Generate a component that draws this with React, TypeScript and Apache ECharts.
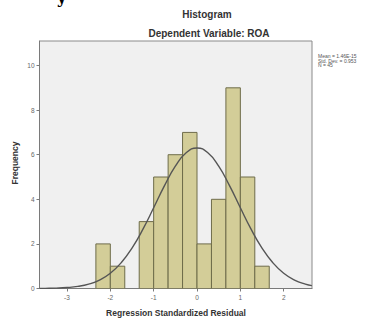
import React, { useEffect, useRef } from "react";
import * as echarts from "echarts";

// Histogram bins (lower edge of each bin, width = 1/3)
const binLowerEdges = [-7 / 3, -2, -5 / 3, -4 / 3, -1, -2 / 3, -1 / 3, 0, 1 / 3, 2 / 3, 1, 4 / 3];
const binWidth = 1 / 3;
const frequencies = [2, 1, 0, 3, 5, 6, 7, 2, 4, 9, 5, 1];

// Normal curve points
const curveX = [-3.63, -3.5, -3.25, -3, -2.75, -2.5, -2.25, -2, -1.75, -1.5, -1.25, -1, -0.75, -0.5, -0.25, 0, 0.25, 0.5, 0.75, 1, 1.25, 1.5, 1.75, 2, 2.25, 2.5, 2.65];
const curveY = [0.004, 0.007, 0.018, 0.043, 0.095, 0.197, 0.381, 0.687, 1.155, 1.811, 2.651, 3.62, 4.613, 5.485, 6.086, 6.3, 6.086, 5.485, 4.613, 3.62, 2.651, 1.811, 1.155, 0.687, 0.381, 0.197, 0.13];

const xTicks = [-3, -2, -1, 0, 1, 2];
const yTicks = [0, 2, 4, 6, 8, 10];
const statsLines = ["Mean = 1.46E-15", "Std. Dev. = 0.953", "N = 45"];

const FONT = "'Liberation Sans', Arial, sans-serif";

export default function App() {
  const ref = useRef<HTMLDivElement>(null);
  useEffect(() => {
    if (!ref.current) return;
    const chart = echarts.init(ref.current, undefined, { renderer: "svg" });
    const barData = binLowerEdges.map((x0, i) => [x0, x0 + binWidth, frequencies[i]]);
    chart.setOption({
      animation: false,
      backgroundColor: "#ffffff",
      grid: {
        left: 39.5,
        right: 56,
        top: 41,
        bottom: 31.5,
        show: true,
        backgroundColor: "#f0f0f0",
        borderColor: "#8a8a8a",
        borderWidth: 1,
      },
      xAxis: {
        type: "value",
        min: -3.634,
        max: 2.653,
        splitLine: { show: false },
        axisLine: { show: true, onZero: false, lineStyle: { color: "#7a7a7a", width: 1 } },
        axisTick: { show: true, length: 3, customValues: xTicks, lineStyle: { color: "#7a7a7a" } },
        axisLabel: { customValues: xTicks, fontSize: 6.5, color: "#666666", margin: 5, fontFamily: FONT },
      },
      yAxis: {
        type: "value",
        min: 0,
        max: 11.1,
        splitLine: { show: false },
        axisLine: { show: true, onZero: false, lineStyle: { color: "#7a7a7a", width: 1 } },
        axisTick: { show: true, length: 3, customValues: yTicks, lineStyle: { color: "#7a7a7a" } },
        axisLabel: { customValues: yTicks, fontSize: 6.5, color: "#666666", margin: 5, fontFamily: FONT },
      },
      series: [
        {
          type: "custom",
          data: barData,
          clip: true,
          renderItem: (params: any, api: any) => {
            const x0 = api.value(0);
            const x1 = api.value(1);
            const h = api.value(2);
            if (!h) return null;
            const p0 = api.coord([x0, h]);
            const p1 = api.coord([x1, 0]);
            return {
              type: "rect",
              shape: { x: p0[0], y: p0[1], width: p1[0] - p0[0], height: p1[1] - p0[1] },
              style: { fill: "#d3cd98", stroke: "#6e6c4a", lineWidth: 1 },
            };
          },
          encode: { x: [0, 1], y: 2 },
          z: 2,
        },
        {
          type: "line",
          data: curveX.map((x, i) => [x, curveY[i]]),
          smooth: true,
          symbol: "none",
          lineStyle: { color: "#555555", width: 1.4 },
          clip: true,
          z: 3,
        },
      ],
      graphic: [
        {
          type: "text",
          left: 57,
          top: -11,
          style: { text: "y", font: "bold 16px 'DejaVu Serif', serif", fill: "#000" },
        },
        {
          type: "text",
          x: 207,
          y: 14,
          style: { text: "Histogram", font: `bold 10px ${FONT}`, fill: "#333", align: "center", verticalAlign: "middle" },
        },
        {
          type: "text",
          x: 209,
          y: 33,
          style: { text: "Dependent Variable: ROA", font: `bold 10px ${FONT}`, fill: "#333", align: "center", verticalAlign: "middle" },
        },
        {
          type: "text",
          x: 15,
          y: 163,
          rotation: Math.PI / 2,
          style: { text: "Frequency", font: `bold 8.5px ${FONT}`, fill: "#333", align: "center", verticalAlign: "middle" },
        },
        {
          type: "text",
          x: 176,
          y: 313,
          style: { text: "Regression Standardized Residual", font: `bold 8.5px ${FONT}`, fill: "#333", align: "center", verticalAlign: "middle" },
        },
        ...statsLines.map((t, i) => ({
          type: "text",
          x: 318,
          y: 56 + i * 4.5,
          style: { text: t, font: `5px ${FONT}`, fill: "#555", align: "left", verticalAlign: "middle" },
        })),
      ],
    });
    return () => chart.dispose();
  }, []);
  return <div ref={ref} style={{ position: "fixed", left: 0, top: 0, width: 368, height: 320 }} />;
}
